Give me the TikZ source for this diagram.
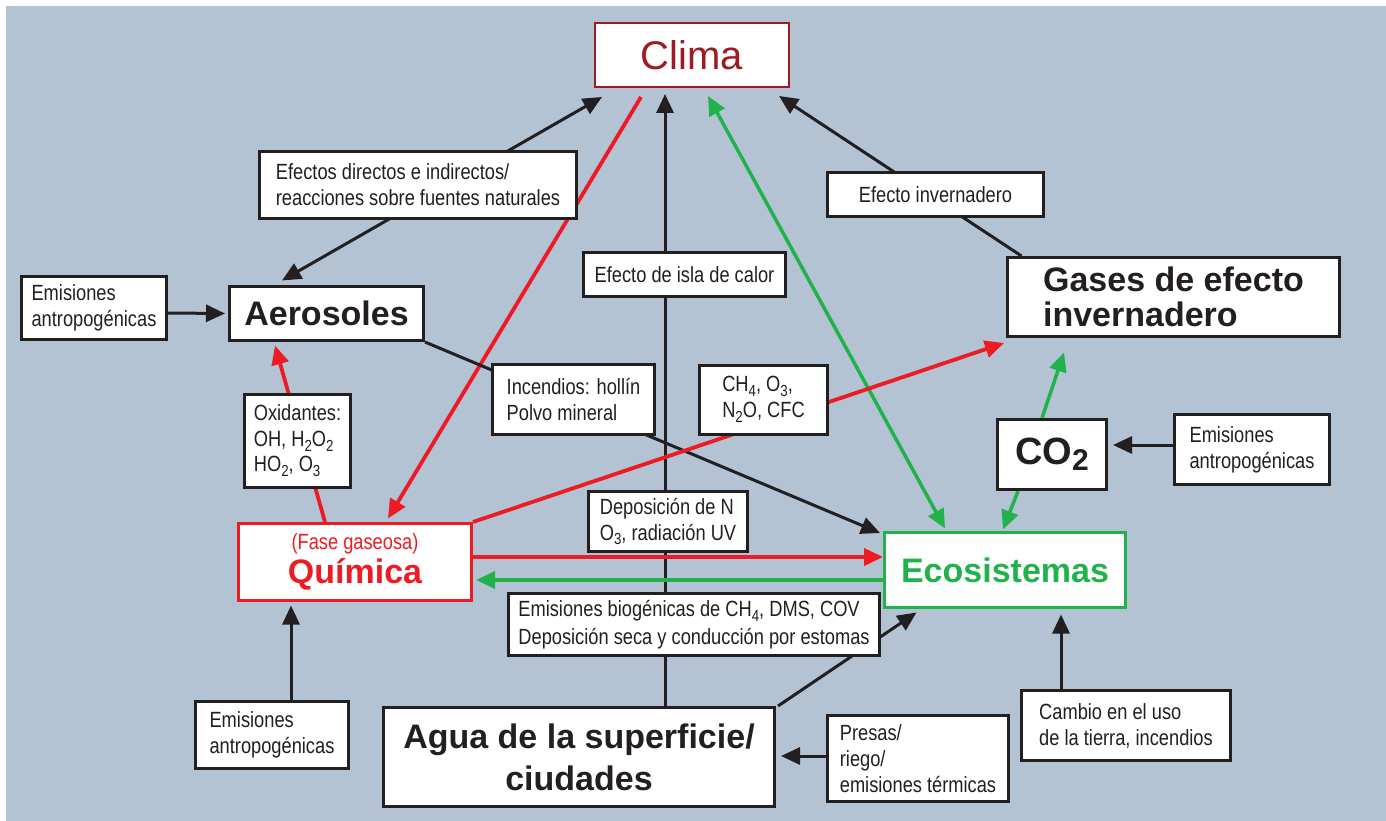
\documentclass[tikz,border=0pt]{standalone}
\usepackage{fontspec}
\setmainfont{Liberation Sans}
\newfontfamily\cond[FakeStretch=0.83]{Liberation Sans}
\usetikzlibrary{arrows.meta,calc}
\pgfdeclarelayer{bg}
\pgfdeclarelayer{edges}
\pgfsetlayers{bg,edges,main}
\definecolor{bgc}{HTML}{B3C3D3}
\definecolor{ink}{HTML}{231F20}
\definecolor{redc}{HTML}{ED1C24}
\definecolor{grn}{HTML}{22B24C}
\definecolor{dred}{HTML}{9E1B21}
\newcommand\mysub[1]{\raisebox{-0.22em}{\fontsize{16}{16}\selectfont #1}}
\tikzset{
  box/.style={draw=ink, line width=3pt, fill=white, rectangle, inner sep=0pt, text=ink, align=left},
  small/.style={font=\cond\fontsize{22}{26}\selectfont},
  big/.style={font=\bfseries\fontsize{34}{35}\selectfont},
  tipk/.tip={Triangle[length=19pt,width=17pt]},
  blk/.style={draw=ink, line width=3pt},
  rd/.style={draw=redc, line width=3.8pt},
  gr/.style={draw=grn, line width=3.5pt},
}
\begin{document}
\begin{tikzpicture}[x=1pt,y=-1pt]
\useasboundingbox (0,0) rectangle (1386,821);
\begin{pgfonlayer}{bg}
\fill[bgc] (6,6) rectangle (1386,821);
\end{pgfonlayer}

% nodes
\node[box, draw=dred, line width=2pt, text=dred, minimum width=194pt, minimum height=64pt,
      font=\fontsize{40}{40}\selectfont] (clima) at (692,55) {Clima};
\node[box, small, minimum width=317pt, minimum height=67pt] (efectos) at (418,185)
  {Efectos directos e indirectos/\\reacciones sobre fuentes naturales};
\node[box, big, minimum width=194pt, minimum height=54pt] (aeros) at (326.5,313.5) {Aerosoles};
\node[box, small, minimum width=145pt, minimum height=63pt] (emisL) at (94,308)
  {Emisiones\\antropogénicas};
\node[box, small, minimum width=106pt, minimum height=93pt, font=\cond\fontsize{22}{25.5}\selectfont] (oxid) at (297.5,441)
  {Oxidantes:\\OH, H\mysub{2}O\mysub{2}\\HO\mysub{2}, O\mysub{3}};
\node[box, draw=redc, text=redc, align=center, minimum width=233pt, minimum height=77pt,
      font=\bfseries\fontsize{34}{34}\selectfont] (quim) at (355,562)
  {{\cond\mdseries\fontsize{22}{26}\selectfont (Fase gaseosa)}\\Química};
\node[box, small, minimum width=153pt, minimum height=67pt] (emisB) at (272,735)
  {Emisiones\\antropogénicas};
\node[box, align=center, minimum width=391pt, minimum height=99pt,
      font=\bfseries\fontsize{34}{42}\selectfont] (agua) at (579,757)
  {Agua de la superficie/\\ciudades};
\node[box, small, minimum width=181pt, minimum height=86pt] (presas) at (918,758.5)
  {Presas/\\riego/\\emisiones térmicas};
\node[box, small, minimum width=209pt, minimum height=70pt] (cambio) at (1126,725.5)
  {Cambio en el uso\\de la tierra, incendios};
\node[box, draw=grn, text=grn, big, minimum width=241pt, minimum height=75pt] (eco) at (1005,570)
  {Ecosistemas};
\node[box, minimum width=371pt, minimum height=62pt, font=\cond\fontsize{22}{28}\selectfont] (biog) at (694,624.5)
  {Emisiones biogénicas de CH\mysub{4}, DMS, COV\\Deposición seca y conducción por estomas};
\node[box, small, minimum width=159pt, minimum height=60pt] (depos) at (668,521.5)
  {Deposición de N\\O\mysub{3}, radiación UV};
\node[box, small, minimum width=162pt, minimum height=70pt] (incend) at (573.5,399.5)
  {Incendios: hollín\\Polvo mineral};
\node[box, small, minimum width=128pt, minimum height=69pt] (ch4) at (763.5,399.5)
  {CH\mysub{4}, O\mysub{3},\\N\mysub{2}O, CFC};
\node[box, small, minimum width=202pt, minimum height=44pt] (isla) at (684.5,274.5)
  {Efecto de isla de calor};
\node[box, small, minimum width=216pt, minimum height=44pt] (invern) at (935.5,194.5)
  {Efecto invernadero};
\node[box, big, minimum width=332pt, minimum height=79pt] (gases) at (1173.5,297)
  {Gases de efecto\\invernadero};
\node[box, minimum width=109pt, minimum height=70pt, font=\bfseries\fontsize{38}{38}\selectfont] (co2) at (1052,454.5)
  {CO\raisebox{-6pt}{\fontsize{30}{30}\selectfont 2}};
\node[box, small, minimum width=155pt, minimum height=70pt] (emisR) at (1252,449.5)
  {Emisiones\\antropogénicas};

% connectors
\begin{pgfonlayer}{edges}
\draw[blk, tipk-tipk] ($(aeros.north)+(-44.5,-4.5)$) -- ($(clima.south)+(-90,9)$);
\draw[rd, -tipk] ($(clima.south)+(-51,9)$) -- ($(quim.north)+(33,-3.5)$);
\draw[blk, -tipk] ($(agua.north)+(86,0)$) -- ($(clima.south)+(-27,6)$);
\draw[gr, tipk-tipk] ($(clima.south)+(16,8)$) -- ($(eco.north)+(-60,-2.5)$);
\draw[blk, -tipk] ($(gases.north west)+(15.5,0)$) -- ($(clima.south east)+(-11,8)$);
\draw[blk, -tipk] (aeros.south east) -- ($(eco.north west)+(-3,2)$);
\draw[rd, -tipk] (quim.north east) -- ($(gases.south west)+(-2,5)$);
\draw[rd, -tipk] ($(quim.east)+(0,-5)$) -- ($(eco.west)+(0,-13)$);
\draw[gr, -tipk] ($(eco.west)+(0,10)$) -- ($(quim.east)+(3,18)$);
\draw[rd, -tipk] ($(quim.north)+(-30,0)$) -- ($(aeros.south)+(-51.5,3.5)$);
\draw[blk, -tipk] ($(emisL.east)+(0,5)$) -- ($(aeros.west)+(-3,0)$);
\draw[blk, -tipk] ($(emisB.north)+(19,0)$) -- ($(quim.south)+(-64,3.5)$);
\draw[blk, -tipk] ($(agua.north east)+(2,0)$) -- ($(eco.south west)+(33.5,3.5)$);
\draw[blk, -tipk] ($(presas.west)+(0,-2.5)$) -- ($(agua.east)+(5,-1)$);
\draw[blk, -tipk] ($(cambio.north)+(-65,0)$) -- ($(eco.south)+(56,5.5)$);
\draw[gr, -tipk] ($(co2.north)+(-10,0)$) -- ($(gases.south)+(-109.5,14.5)$);
\draw[gr, -tipk] ($(co2.south)+(-34,0)$) -- ($(eco.north)+(-2,-1.5)$);
\draw[blk, -tipk] ($(emisR.west)+(0,-4.5)$) -- ($(co2.east)+(5,-9.5)$);
\end{pgfonlayer}
\end{tikzpicture}
\end{document}
